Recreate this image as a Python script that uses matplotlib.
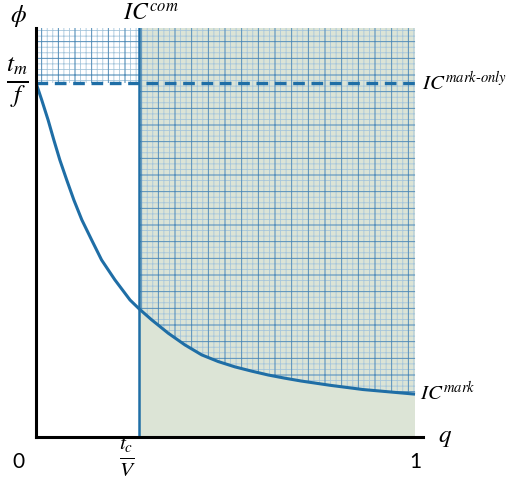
import matplotlib
matplotlib.use("Agg")
import matplotlib.pyplot as plt
import numpy as np

plt.rcParams['mathtext.fontset'] = 'stix'
plt.rcParams['hatch.linewidth'] = 0.6

# Data (phi in units of t_m/f)
q_curve = [0.0, 0.015, 0.032, 0.047, 0.063, 0.081, 0.100, 0.121, 0.147, 0.173, 0.208,
           0.248, 0.272, 0.305, 0.349, 0.393, 0.437, 0.481, 0.525, 0.569, 0.613, 0.657,
           0.700, 0.776, 0.863, 1.0]
phi_curve = [1.0, 0.952, 0.895, 0.839, 0.782, 0.726, 0.669, 0.613, 0.556, 0.500, 0.444,
             0.387, 0.362, 0.331, 0.293, 0.260, 0.232, 0.213, 0.198, 0.186, 0.175, 0.166,
             0.158, 0.146, 0.134, 0.121]
tc_over_V = 0.272
tm_over_f = 1.0
q_max = 1.0

blue = '#1f6ea6'
green = '#dce4d6'

fig = plt.figure(figsize=(5.2, 4.79), dpi=100)
ax = fig.add_axes([36/520, 1-437/479, 387/520, 409/479])
ytop = 1.155
ax.set_xlim(0, 1.021)
ax.set_ylim(0, ytop)

q = np.array(q_curve)
phi = np.array(phi_curve)
mask = q >= tc_over_V

# green region
ax.fill_between([tc_over_V, q_max], 0, ytop, color=green, lw=0, zorder=0)
# grid (hatched) regions
for hatch, col in [('+++', '#a6c6dc'), ('+', '#4f8ab6')]:
    ax.fill_between([0, tc_over_V], tm_over_f, ytop, facecolor='none', edgecolor=col,
                    hatch=hatch, lw=0, zorder=1)
    ax.fill_between(q[mask], phi[mask], ytop, facecolor='none', edgecolor=col,
                    hatch=hatch, lw=0, zorder=1)

# curves
ax.plot(q, phi, color=blue, lw=2.2, zorder=3, solid_capstyle='butt')
ax.plot([tc_over_V, tc_over_V], [0, ytop], color=blue, lw=1.8, zorder=3)
ax.plot([0, q_max], [tm_over_f, tm_over_f], color=blue, lw=2.4, ls=(0, (3.5, 2)), zorder=3)

for s in ['top', 'right']:
    ax.spines[s].set_visible(False)
for s in ['left', 'bottom']:
    ax.spines[s].set_linewidth(2.2)
    ax.spines[s].set_color('black')
    ax.spines[s].set_zorder(4)
ax.set_xticks([])
ax.set_yticks([])

# labels
kw = dict(clip_on=False, color='black')
ax.text(-0.047, 1.19, r'$\phi$', fontsize=18, ha='center', va='center', **kw)
ax.text(tc_over_V + 0.03, 1.195, r'$IC^{com}$', fontsize=17, ha='center', va='center', **kw)
ax.text(-0.05, tm_over_f, r'$\frac{t_m}{f}$', fontsize=26, ha='center', va='center', **kw)
ax.text(q_max + 0.018, tm_over_f, r'$IC^{mark\text{-}only}$', fontsize=15, ha='left', va='center', **kw)
ax.text(q_max + 0.012, phi[-1] + 0.005, r'$IC^{mark}$', fontsize=15, ha='left', va='center', **kw)
ax.text(1.08, 0.0, r'$q$', fontsize=18, ha='center', va='center', **kw)
ax.text(-0.047, -0.07, '0', fontsize=15, family='Lato', ha='center', va='center', **kw)
ax.text(q_max, -0.07, '1', fontsize=15, family='Lato', ha='center', va='center', **kw)
ax.text(tc_over_V - 0.03, -0.058, r'$\frac{t_c}{V}$', fontsize=22, ha='center', va='center', **kw)

fig.savefig('out.png', dpi=100)
